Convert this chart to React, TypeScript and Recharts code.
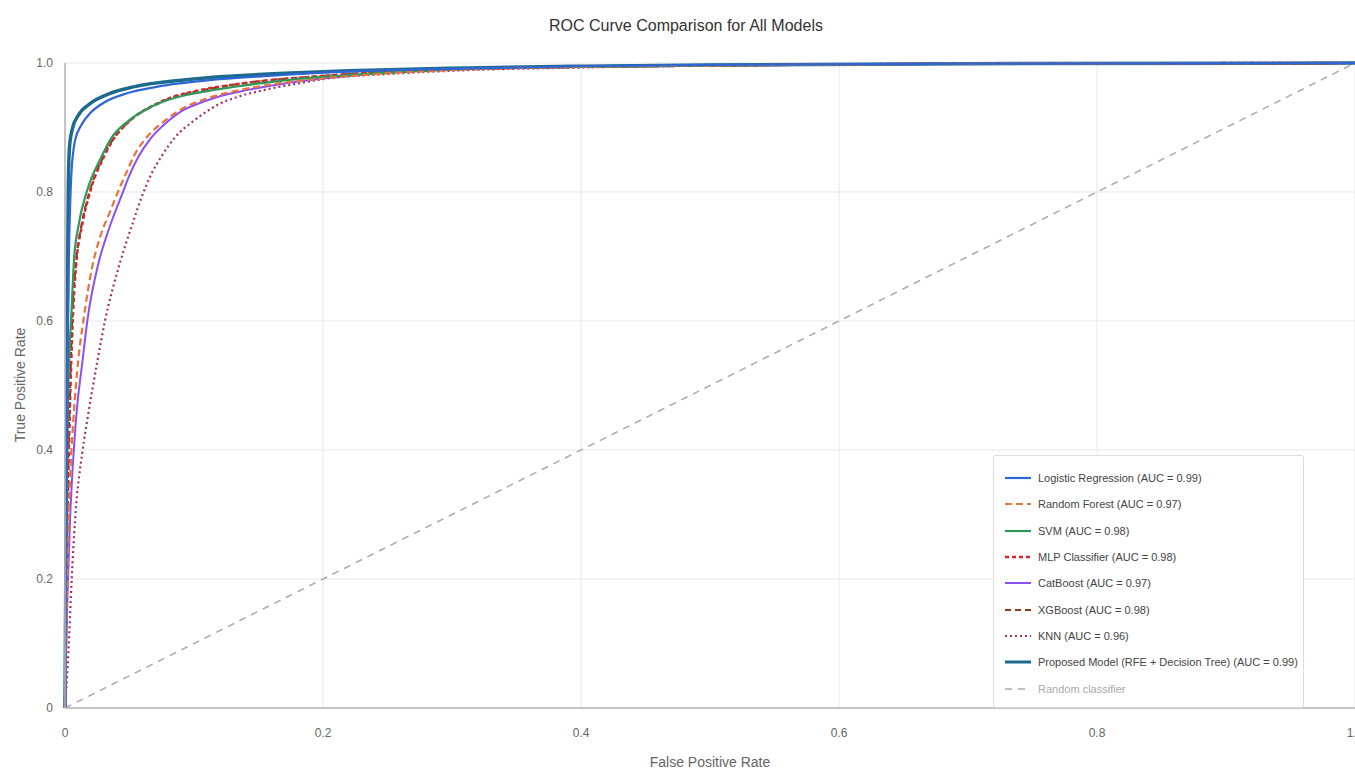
import { LineChart, Line, XAxis, YAxis, CartesianGrid } from "recharts";

// ROC points (fpr, tpr)
const logisticRoc = [
  { fpr: 0, tpr: 0 }, { fpr: 0.001, tpr: 0.3 }, { fpr: 0.002, tpr: 0.55 }, { fpr: 0.003, tpr: 0.7 },
  { fpr: 0.004, tpr: 0.78 }, { fpr: 0.005, tpr: 0.83 }, { fpr: 0.0078, tpr: 0.88 }, { fpr: 0.013, tpr: 0.905 },
  { fpr: 0.0194, tpr: 0.922 }, { fpr: 0.0297, tpr: 0.938 }, { fpr: 0.048, tpr: 0.953 }, { fpr: 0.071, tpr: 0.963 },
  { fpr: 0.115, tpr: 0.974 }, { fpr: 0.149, tpr: 0.979 }, { fpr: 0.2, tpr: 0.985 }, { fpr: 0.3, tpr: 0.991 },
  { fpr: 0.4, tpr: 0.995 }, { fpr: 0.5, tpr: 0.997 }, { fpr: 0.7, tpr: 0.999 }, { fpr: 1, tpr: 1 },
];

const randomForestRoc = [
  { fpr: 0, tpr: 0 }, { fpr: 0.001, tpr: 0.12 }, { fpr: 0.0025, tpr: 0.26 }, { fpr: 0.0045, tpr: 0.38 },
  { fpr: 0.0065, tpr: 0.447 }, { fpr: 0.0103, tpr: 0.54 }, { fpr: 0.0142, tpr: 0.6 }, { fpr: 0.0207, tpr: 0.68 },
  { fpr: 0.028, tpr: 0.735 }, { fpr: 0.035, tpr: 0.77 }, { fpr: 0.041, tpr: 0.8 }, { fpr: 0.048, tpr: 0.832 },
  { fpr: 0.054, tpr: 0.858 }, { fpr: 0.063, tpr: 0.884 }, { fpr: 0.077, tpr: 0.91 }, { fpr: 0.09, tpr: 0.928 },
  { fpr: 0.11, tpr: 0.945 }, { fpr: 0.133, tpr: 0.957 }, { fpr: 0.164, tpr: 0.968 }, { fpr: 0.2, tpr: 0.976 },
  { fpr: 0.25, tpr: 0.984 }, { fpr: 0.3, tpr: 0.989 }, { fpr: 0.4, tpr: 0.994 }, { fpr: 0.5, tpr: 0.996 },
  { fpr: 0.7, tpr: 0.999 }, { fpr: 1, tpr: 1 },
];

const svmRoc = [
  { fpr: 0, tpr: 0 }, { fpr: 0.001, tpr: 0.3 }, { fpr: 0.002, tpr: 0.45 }, { fpr: 0.0033, tpr: 0.55 },
  { fpr: 0.0047, tpr: 0.6 }, { fpr: 0.007, tpr: 0.695 }, { fpr: 0.0103, tpr: 0.746 }, { fpr: 0.0168, tpr: 0.8 },
  { fpr: 0.0284, tpr: 0.855 }, { fpr: 0.036, tpr: 0.884 }, { fpr: 0.049, tpr: 0.91 }, { fpr: 0.061, tpr: 0.926 },
  { fpr: 0.071, tpr: 0.936 }, { fpr: 0.089, tpr: 0.948 }, { fpr: 0.118, tpr: 0.959 }, { fpr: 0.149, tpr: 0.968 },
  { fpr: 0.18, tpr: 0.975 }, { fpr: 0.25, tpr: 0.985 }, { fpr: 0.3, tpr: 0.99 }, { fpr: 0.4, tpr: 0.994 },
  { fpr: 0.5, tpr: 0.996 }, { fpr: 0.7, tpr: 0.999 }, { fpr: 1, tpr: 1 },
];

const mlpRoc = [
  { fpr: 0, tpr: 0 }, { fpr: 0.001, tpr: 0.2 }, { fpr: 0.0025, tpr: 0.35 }, { fpr: 0.004, tpr: 0.48 },
  { fpr: 0.006, tpr: 0.6 }, { fpr: 0.009, tpr: 0.695 }, { fpr: 0.013, tpr: 0.746 }, { fpr: 0.0194, tpr: 0.8 },
  { fpr: 0.03, tpr: 0.854 }, { fpr: 0.037, tpr: 0.88 }, { fpr: 0.05, tpr: 0.91 }, { fpr: 0.068, tpr: 0.934 },
  { fpr: 0.083, tpr: 0.947 }, { fpr: 0.11, tpr: 0.96 }, { fpr: 0.14, tpr: 0.969 }, { fpr: 0.2, tpr: 0.98 },
  { fpr: 0.3, tpr: 0.99 }, { fpr: 0.4, tpr: 0.994 }, { fpr: 0.5, tpr: 0.996 }, { fpr: 0.7, tpr: 0.999 },
  { fpr: 1, tpr: 1 },
];

const catBoostRoc = [
  { fpr: 0, tpr: 0 }, { fpr: 0.001, tpr: 0.1 }, { fpr: 0.002, tpr: 0.18 }, { fpr: 0.0039, tpr: 0.291 },
  { fpr: 0.0085, tpr: 0.447 }, { fpr: 0.0137, tpr: 0.54 }, { fpr: 0.0173, tpr: 0.6 }, { fpr: 0.026, tpr: 0.69 },
  { fpr: 0.0336, tpr: 0.74 }, { fpr: 0.0375, tpr: 0.762 }, { fpr: 0.044, tpr: 0.795 }, { fpr: 0.05, tpr: 0.826 },
  { fpr: 0.057, tpr: 0.855 }, { fpr: 0.066, tpr: 0.882 }, { fpr: 0.08, tpr: 0.91 }, { fpr: 0.09, tpr: 0.925 },
  { fpr: 0.102, tpr: 0.936 }, { fpr: 0.1176, tpr: 0.947 }, { fpr: 0.141, tpr: 0.958 }, { fpr: 0.169, tpr: 0.968 },
  { fpr: 0.2, tpr: 0.976 }, { fpr: 0.25, tpr: 0.985 }, { fpr: 0.3, tpr: 0.99 }, { fpr: 0.4, tpr: 0.994 },
  { fpr: 0.5, tpr: 0.996 }, { fpr: 0.7, tpr: 0.999 }, { fpr: 1, tpr: 1 },
];

const xgBoostRoc = [
  { fpr: 0, tpr: 0 }, { fpr: 0.001, tpr: 0.22 }, { fpr: 0.0025, tpr: 0.38 }, { fpr: 0.004, tpr: 0.5 },
  { fpr: 0.0055, tpr: 0.6 }, { fpr: 0.0085, tpr: 0.69 }, { fpr: 0.0125, tpr: 0.745 }, { fpr: 0.019, tpr: 0.8 },
  { fpr: 0.0295, tpr: 0.854 }, { fpr: 0.037, tpr: 0.881 }, { fpr: 0.05, tpr: 0.91 }, { fpr: 0.068, tpr: 0.933 },
  { fpr: 0.083, tpr: 0.946 }, { fpr: 0.11, tpr: 0.959 }, { fpr: 0.14, tpr: 0.969 }, { fpr: 0.2, tpr: 0.98 },
  { fpr: 0.3, tpr: 0.99 }, { fpr: 0.4, tpr: 0.994 }, { fpr: 0.5, tpr: 0.996 }, { fpr: 0.7, tpr: 0.999 },
  { fpr: 1, tpr: 1 },
];

const knnRoc = [
  { fpr: 0, tpr: 0 }, { fpr: 0.0026, tpr: 0.085 }, { fpr: 0.0052, tpr: 0.2 }, { fpr: 0.0078, tpr: 0.291 },
  { fpr: 0.0137, tpr: 0.4 }, { fpr: 0.0173, tpr: 0.447 }, { fpr: 0.0253, tpr: 0.54 }, { fpr: 0.031, tpr: 0.6 },
  { fpr: 0.0426, tpr: 0.69 }, { fpr: 0.053, tpr: 0.755 }, { fpr: 0.059, tpr: 0.79 }, { fpr: 0.067, tpr: 0.828 },
  { fpr: 0.075, tpr: 0.856 }, { fpr: 0.085, tpr: 0.884 }, { fpr: 0.0995, tpr: 0.91 }, { fpr: 0.11, tpr: 0.925 },
  { fpr: 0.119, tpr: 0.936 }, { fpr: 0.133, tpr: 0.947 }, { fpr: 0.154, tpr: 0.958 }, { fpr: 0.18, tpr: 0.968 },
  { fpr: 0.2, tpr: 0.975 }, { fpr: 0.25, tpr: 0.983 }, { fpr: 0.3, tpr: 0.988 }, { fpr: 0.4, tpr: 0.993 },
  { fpr: 0.5, tpr: 0.996 }, { fpr: 0.7, tpr: 0.999 }, { fpr: 1, tpr: 1 },
];

const proposedRoc = [
  { fpr: 0, tpr: 0 }, { fpr: 0.0015, tpr: 0.5 }, { fpr: 0.0025, tpr: 0.8 }, { fpr: 0.0035, tpr: 0.87 },
  { fpr: 0.006, tpr: 0.9 }, { fpr: 0.01, tpr: 0.918 }, { fpr: 0.0194, tpr: 0.937 }, { fpr: 0.035, tpr: 0.953 },
  { fpr: 0.053, tpr: 0.963 }, { fpr: 0.094, tpr: 0.974 }, { fpr: 0.123, tpr: 0.979 }, { fpr: 0.17, tpr: 0.984 },
  { fpr: 0.22, tpr: 0.988 }, { fpr: 0.3, tpr: 0.992 }, { fpr: 0.4, tpr: 0.995 }, { fpr: 0.5, tpr: 0.997 },
  { fpr: 0.7, tpr: 0.999 }, { fpr: 1, tpr: 1 },
];

const randomRoc = [{ fpr: 0, tpr: 0 }, { fpr: 1, tpr: 1 }];

const xTicks = [0, 0.2, 0.4, 0.6, 0.8, 1];
const yTicks = [0, 0.2, 0.4, 0.6, 0.8, 1];
const tickLabel = (v: number) => (v === 0 ? "0" : v.toFixed(1));

const series = [
  { name: "Logistic Regression (AUC = 0.99)", data: logisticRoc, color: "#2f66d6", width: 2.2, dash: undefined },
  { name: "Random Forest (AUC = 0.97)", data: randomForestRoc, color: "#e8743b", width: 2.2, dash: "7 4" },
  { name: "SVM (AUC = 0.98)", data: svmRoc, color: "#2e9a5a", width: 2.2, dash: undefined },
  { name: "MLP Classifier (AUC = 0.98)", data: mlpRoc, color: "#d8262e", width: 2.5, dash: "4 3" },
  { name: "CatBoost (AUC = 0.97)", data: catBoostRoc, color: "#8c4ff2", width: 2, dash: undefined },
  { name: "XGBoost (AUC = 0.98)", data: xgBoostRoc, color: "#8b3a22", width: 2.2, dash: "6 4" },
  { name: "KNN (AUC = 0.96)", data: knnRoc, color: "#a33064", width: 2.2, dash: "2 3" },
  { name: "Proposed Model (RFE + Decision Tree) (AUC = 0.99)", data: proposedRoc, color: "#1d6b8c", width: 3.5, dash: undefined },
  { name: "Random classifier", data: randomRoc, color: "#aaaaaa", width: 1.5, dash: "7 6" },
];

const FONT = "'Liberation Sans', Arial, Helvetica, sans-serif";

export default function App() {
  return (
    <div
      style={{
        position: "absolute",
        left: 0,
        top: 0,
        width: 1355,
        height: 772,
        overflow: "hidden",
        background: "#fff",
        fontFamily: FONT,
      }}
    >
      <div
        style={{
          position: "absolute",
          left: 0,
          width: 1372,
          top: 17,
          textAlign: "center",
          fontSize: 16,
          color: "#333",
        }}
      >
        ROC Curve Comparison for All Models
      </div>

      <LineChart
        width={1400}
        height={772}
        margin={{ top: 63, right: 45, bottom: 8, left: 8 }}
        style={{ fontFamily: FONT }}
      >
        <CartesianGrid stroke="#e8e8e8" />
        <XAxis
          type="number"
          dataKey="fpr"
          domain={[0, 1]}
          ticks={xTicks}
          tickFormatter={tickLabel}
          height={56}
          tickSize={0}
          tickMargin={20}
          tick={{ fill: "#666", fontSize: 12 }}
          axisLine={{ stroke: "#b5b5b5", strokeWidth: 1.5 }}
          allowDuplicatedCategory={false}
        />
        <YAxis
          type="number"
          dataKey="tpr"
          domain={[0, 1]}
          ticks={yTicks}
          tickFormatter={tickLabel}
          width={57}
          tickSize={0}
          tickMargin={12}
          tick={{ fill: "#666", fontSize: 12 }}
          axisLine={{ stroke: "#b5b5b5", strokeWidth: 1.5 }}
        />
        {series
          .slice()
          .reverse()
          .map((s) => (
            <Line
              key={s.name}
              name={s.name}
              data={s.data}
              dataKey="tpr"
              type={s.data.length > 2 ? "monotone" : "linear"}
              stroke={s.color}
              strokeWidth={s.width}
              strokeDasharray={s.dash}
              dot={false}
              activeDot={false}
              isAnimationActive={false}
            />
          ))}
      </LineChart>

      <div
        style={{
          position: "absolute",
          left: 0,
          width: 1420,
          top: 754,
          textAlign: "center",
          fontSize: 14,
          color: "#666",
        }}
      >
        False Positive Rate
      </div>
      <div
        style={{
          position: "absolute",
          left: 20,
          top: 385,
          transform: "translate(-50%, -50%) rotate(-90deg)",
          whiteSpace: "nowrap",
          fontSize: 14,
          color: "#666",
        }}
      >
        True Positive Rate
      </div>

      <div
        style={{
          position: "absolute",
          left: 993,
          top: 455,
          width: 311,
          height: 253,
          boxSizing: "border-box",
          border: "1px solid #dcdcdc",
          borderRadius: 3,
          background: "rgba(255,255,255,0.92)",
          paddingTop: 9,
        }}
      >
        {series.map((s) => (
          <div
            key={s.name}
            style={{ display: "flex", alignItems: "center", height: 26.3, paddingLeft: 11 }}
          >
            <svg width={26} height={6} style={{ marginRight: 7 }}>
              <line
                x1={0}
                y1={3}
                x2={26}
                y2={3}
                stroke={s.color}
                strokeWidth={Math.min(s.width, 3)}
                strokeDasharray={s.dash}
              />
            </svg>
            <span
              style={{
                fontSize: 11,
                color: s.name === "Random classifier" ? "#aaa" : "#444",
                whiteSpace: "nowrap",
              }}
            >
              {s.name}
            </span>
          </div>
        ))}
      </div>
    </div>
  );
}
